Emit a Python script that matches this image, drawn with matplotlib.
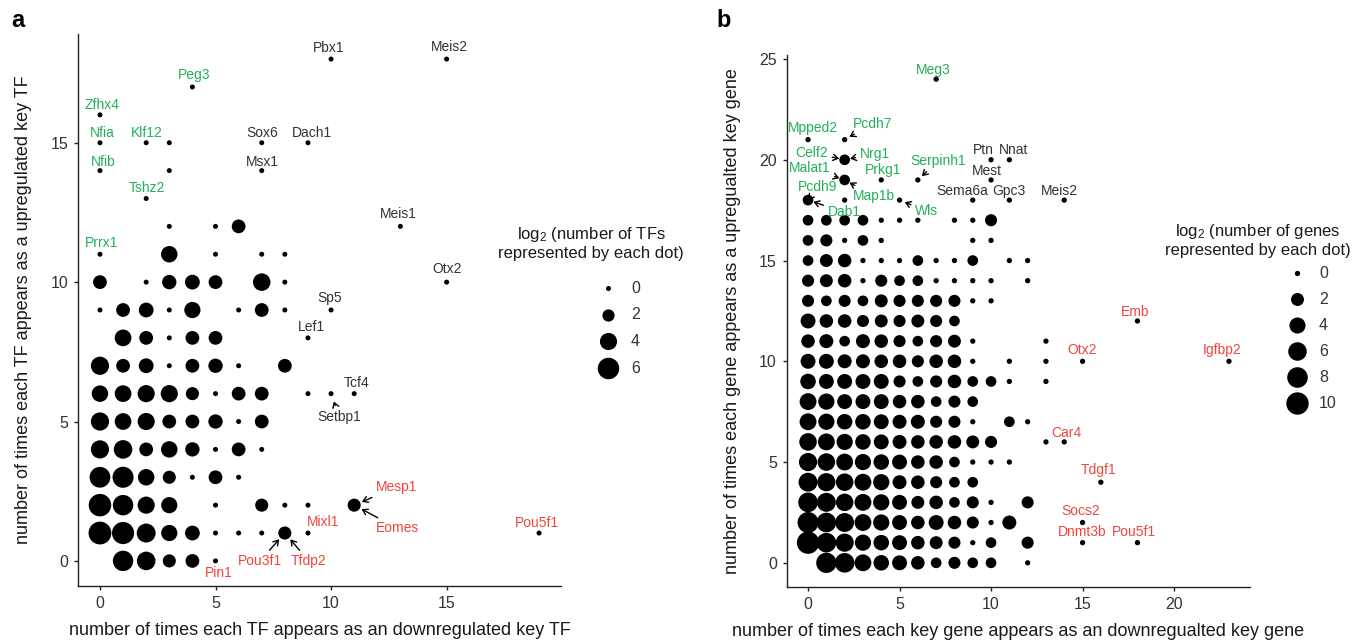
import numpy as np
import matplotlib
matplotlib.use("Agg")
import matplotlib.pyplot as plt

W, H = 1368, 644

# ---- data -------------------------------------------------------------
# panel a: number of TFs per (down, up) cell; row index = times upregulated,
# column index = times downregulated, 0 = no dot
a_grid = [
    [0, 45, 25, 5, 6, 1, 0, 0, 0, 0, 0, 0],
    [100, 80, 28, 12, 8, 1, 1, 1, 5, 1, 0, 0],
    [90, 45, 16, 12, 0, 1, 0, 5, 1, 1, 0, 5],
    [50, 55, 13, 5, 1, 6, 1, 0, 0, 0, 0, 0],
    [22, 25, 6, 13, 7, 1, 6, 1, 0, 0, 0, 0],
    [22, 14, 16, 6, 6, 7, 1, 6, 0, 0, 0, 0],
    [13, 14, 16, 16, 5, 1, 6, 6, 0, 1, 1, 1],
    [22, 6, 8, 1, 6, 7, 1, 0, 6, 0, 0, 0],
    [0, 14, 6, 1, 6, 6, 0, 0, 0, 1, 0, 0],
    [1, 6, 8, 1, 12, 0, 1, 6, 1, 0, 1, 0],
    [6, 0, 1, 7, 8, 6, 0, 18, 1, 0, 0, 0],
    [1, 0, 0, 13, 0, 1, 0, 1, 1, 0, 0, 0],
    [0, 0, 0, 1, 0, 1, 6, 0, 0, 0, 0, 0],
]
a_extra_x = [2, 0, 3, 7, 0, 2, 3, 7, 9, 0, 4, 10, 15, 13, 15, 19]
a_extra_y = [13, 14, 14, 14, 15, 15, 15, 15, 15, 16, 17, 18, 18, 12, 10, 1]
a_extra_n = [1] * 16

# panel b: number of genes per (down, up) cell
b_grid = [
    [0, 207, 128, 24, 12, 9, 5, 2, 3, 2, 2, 0, 1, 0, 0],
    [1000, 128, 53, 17, 12, 9, 5, 4, 3, 1, 2, 0, 3, 0, 0],
    [340, 128, 82, 24, 17, 9, 5, 9, 5, 3, 1, 6, 0, 0, 0],
    [128, 82, 35, 24, 17, 9, 4, 5, 2, 3, 1, 0, 3, 0, 0],
    [82, 53, 35, 24, 17, 6, 5, 3, 2, 2, 0, 0, 0, 0, 0],
    [53, 35, 24, 17, 12, 9, 5, 5, 2, 1, 1, 1, 0, 0, 0],
    [35, 24, 17, 12, 9, 6, 5, 5, 5, 4, 3, 0, 0, 1, 1],
    [24, 17, 12, 12, 9, 6, 6, 3, 3, 1, 0, 2, 1, 0, 0],
    [24, 17, 9, 9, 9, 5, 5, 2, 3, 2, 0, 0, 0, 0, 0],
    [12, 9, 9, 9, 9, 3, 2, 3, 5, 2, 2, 1, 0, 1, 0],
    [9, 9, 6, 6, 5, 5, 3, 5, 5, 1, 0, 1, 0, 1, 0],
    [5, 6, 2, 6, 5, 3, 2, 3, 4, 1, 0, 0, 0, 1, 0],
    [9, 5, 5, 3, 4, 3, 4, 3, 2, 0, 0, 0, 0, 0, 0],
    [3, 2, 3, 2, 4, 3, 3, 3, 3, 1, 1, 0, 0, 0, 0],
    [3, 4, 5, 1, 3, 2, 2, 1, 1, 1, 1, 0, 1, 0, 0],
    [2, 4, 5, 1, 1, 1, 2, 1, 1, 2, 0, 1, 1, 0, 0],
    [2, 3, 1, 2, 1, 0, 0, 0, 0, 1, 1, 0, 0, 0, 0],
    [2, 2, 2, 2, 1, 1, 1, 0, 1, 1, 3, 0, 0, 0, 0],
    [2, 0, 1, 0, 0, 1, 0, 0, 0, 1, 0, 1, 0, 0, 1],
]
b_extra_x = [2, 4, 6, 10, 2, 10, 11, 0, 2, 7, 18, 15, 23, 16, 15, 15, 18]
b_extra_y = [19, 19, 19, 19, 20, 20, 20, 21, 21, 24, 12, 10, 10, 4, 2, 1, 1]
b_extra_n = [2, 1, 1, 1, 2, 1, 1, 1, 1, 1, 1, 1, 1, 1, 1, 1, 1]

# labelled genes: name, x, y, group
a_labels = [
    ("Zfhx4", 0, 16, "up"), ("Nfia", 0, 15, "up"), ("Klf12", 2, 15, "up"),
    ("Nfib", 0, 14, "up"), ("Peg3", 4, 17, "up"), ("Tshz2", 2, 13, "up"),
    ("Prrx1", 0, 11, "up"),
    ("Pbx1", 10, 18, "both"), ("Meis2", 15, 18, "both"), ("Sox6", 7, 15, "both"),
    ("Dach1", 9, 15, "both"), ("Msx1", 7, 14, "both"), ("Meis1", 13, 12, "both"),
    ("Otx2", 15, 10, "both"), ("Sp5", 10, 9, "both"), ("Lef1", 9, 8, "both"),
    ("Tcf4", 11, 6, "both"), ("Setbp1", 10, 6, "both"),
    ("Mesp1", 11, 2, "down"), ("Eomes", 11, 2, "down"), ("Pou5f1", 19, 1, "down"),
    ("Mixl1", 9, 1, "down"), ("Pou3f1", 8, 1, "down"), ("Tfdp2", 8, 1, "down"),
    ("Pin1", 5, 0, "down"),
]
b_labels = [
    ("Meg3", 7, 24, "up"), ("Mpped2", 0, 21, "up"), ("Pcdh7", 2, 21, "up"),
    ("Celf2", 2, 20, "up"), ("Nrg1", 2, 20, "up"), ("Malat1", 2, 19, "up"),
    ("Map1b", 2, 19, "up"), ("Prkg1", 4, 19, "up"), ("Serpinh1", 6, 19, "up"),
    ("Pcdh9", 0, 18, "up"), ("Dab1", 0, 18, "up"), ("Wls", 5, 18, "up"),
    ("Ptn", 10, 20, "both"), ("Nnat", 11, 20, "both"), ("Mest", 10, 19, "both"),
    ("Sema6a", 9, 18, "both"), ("Gpc3", 11, 18, "both"), ("Meis2", 14, 18, "both"),
    ("Emb", 18, 12, "down"), ("Otx2", 15, 10, "down"), ("Igfbp2", 23, 10, "down"),
    ("Car4", 14, 6, "down"), ("Tdgf1", 16, 4, "down"), ("Socs2", 15, 2, "down"),
    ("Dnmt3b", 15, 1, "down"), ("Pou5f1", 18, 1, "down"),
]

a_legend = [0, 2, 4, 6]
b_legend = [0, 2, 4, 6, 8, 10]

# ---- layout (label offsets in pixels, True = arrow) --------------------
a_offsets = {
    "Zfhx4": (2, 10, False), "Nfia": (2, 10, False), "Klf12": (1, 10, False),
    "Nfib": (3, 9, False), "Peg3": (2, 12, False), "Tshz2": (1, 10, False),
    "Prrx1": (2, 11, False), "Pbx1": (-2, 11, False), "Meis2": (3, 12, False),
    "Sox6": (0, 10, False), "Dach1": (4, 10, False), "Msx1": (1, 9, False),
    "Meis1": (-2, 12, False), "Otx2": (1, 13, False), "Sp5": (-1, 12, False),
    "Lef1": (3, 11, False), "Tcf4": (2, 11, False), "Setbp1": (8, -23, True),
    "Mesp1": (42, 18, True), "Eomes": (43, -23, True), "Pou5f1": (-2, 10, False),
    "Mixl1": (15, 11, False), "Pou3f1": (-25, -28, True), "Tfdp2": (24, -28, True),
    "Pin1": (3, -12, False),
}
b_offsets = {
    "Meg3": (-3, 9, False), "Mpped2": (5, 12, False), "Pcdh7": (28, 16, True),
    "Celf2": (-33, 7, True), "Nrg1": (30, 6, True), "Malat1": (-35, 12, True),
    "Map1b": (29, -16, True), "Prkg1": (2, 10, False), "Serpinh1": (20, 19, True),
    "Pcdh9": (10, 13, True), "Dab1": (36, -12, True), "Wls": (27, -11, True),
    "Ptn": (-8, 10, False), "Nnat": (4, 10, False), "Mest": (-4, 9, False),
    "Sema6a": (-10, 9, False), "Gpc3": (0, 9, False), "Meis2": (-5, 9, False),
    "Emb": (-2, 9, False), "Otx2": (0, 11, False), "Igfbp2": (-7, 11, False),
    "Car4": (2, 9, False), "Tdgf1": (-2, 12, False), "Socs2": (-2, 12, False),
    "Dnmt3b": (0, 11, False), "Pou5f1": (-4, 11, False),
}

GROUP_COLORS = {"up": "#22B05A", "down": "#F0463C", "both": "#333333"}
TEXT = "#1A1A1A"
TICK = "#333333"

plt.rcParams.update({
    "font.family": ["Liberation Sans", "DejaVu Sans"],
    "mathtext.fontset": "custom",
    "mathtext.rm": "Liberation Sans",
    "mathtext.it": "Liberation Sans:italic",
    "mathtext.bf": "Liberation Sans:bold",
})


def dot_px(v, d0, k, p):
    return d0 + k * np.power(v, p)


def dot_area(v, style):
    return (dot_px(v, *style) * 72 / 100) ** 2


A_SIZE = (5.0, 4.3, 0.75)
B_SIZE = (5.3, 5.4, 0.5)


def grid_points(grid, ex, ey, en):
    xs, ys, ns = [], [], []
    for y, row in enumerate(grid):
        for x, n in enumerate(row):
            if n:
                xs.append(x)
                ys.append(y)
                ns.append(n)
    xs += ex
    ys += ey
    ns += en
    return np.array(xs), np.array(ys), np.log2(np.array(ns, dtype=float))


def px_box(left, top, right, bottom):
    return [left / W, 1 - bottom / H, (right - left) / W, (bottom - top) / H]


def expand(vals, frac=0.05):
    lo, hi = min(vals), max(vals)
    pad = (hi - lo) * frac
    return lo - pad, hi + pad


def draw_panel(ax, xs, ys, vs, size, labels, offsets, shrink, xlabel, ylabel, xticks, yticks):
    ax.scatter(xs, ys, s=dot_area(vs, size), color="black", linewidths=0, zorder=2, clip_on=False)
    ax.set_xlim(*expand(xs))
    ax.set_ylim(*expand(ys))
    ax.set_xticks(xticks)
    ax.set_yticks(yticks)
    for side in ("top", "right"):
        ax.spines[side].set_visible(False)
    for side in ("left", "bottom"):
        ax.spines[side].set_linewidth(1.0)
        ax.spines[side].set_color("#222222")
    ax.tick_params(direction="out", length=3.2, width=1.0, color="#222222",
                   labelsize=11.5, labelcolor=TICK, pad=4)
    ax.set_xlabel(xlabel, fontsize=13, color=TEXT, labelpad=8)
    ax.set_ylabel(ylabel, fontsize=13, color=TEXT, labelpad=13)
    ax.patch.set_alpha(0)
    for name, x, y, group in labels:
        dx, dy, arrow = offsets[name]
        props = None
        if arrow:
            props = dict(arrowstyle="->,head_length=0.35,head_width=0.22", color="black",
                         lw=1.0, shrinkA=1, shrinkB=shrink)
        ax.annotate(name, (x, y), xytext=(dx, dy), textcoords="offset pixels",
                    ha="center", va="center", fontsize=10,
                    color=GROUP_COLORS[group], arrowprops=props, zorder=3,
                    annotation_clip=False)


fig = plt.figure(figsize=(W / 100, H / 100), dpi=100)

ax_a = fig.add_axes(px_box(78, 34, 561, 586))
xa, ya, va = grid_points(a_grid, a_extra_x, a_extra_y, a_extra_n)
draw_panel(ax_a, xa, ya, va, A_SIZE, a_labels, a_offsets, 6,
           "number of times each TF appears as an downregulated key TF",
           "number of times each TF appears as a upregulated key TF",
           [0, 5, 10, 15], [0, 5, 10, 15])

ax_b = fig.add_axes(px_box(787, 55, 1250, 587))
xb, yb, vb = grid_points(b_grid, b_extra_x, b_extra_y, b_extra_n)
draw_panel(ax_b, xb, yb, vb, B_SIZE, b_labels, b_offsets, 4,
           "number of times each key gene appears as an downregualted key gene",
           "number of times each gene appears as a upregualted key gene",
           [0, 5, 10, 15, 20], [0, 5, 10, 15, 20, 25])

# overlay in pixel coordinates for legends and panel letters
ov = fig.add_axes([0, 0, 1, 1], zorder=5)
ov.set_xlim(0, W)
ov.set_ylim(H, 0)
ov.axis("off")
ov.patch.set_alpha(0)

ov.text(18, 20, "a", fontsize=17, fontweight="bold", ha="center", va="center", color="black")
ov.text(724, 20, "b", fontsize=17, fontweight="bold", ha="center", va="center", color="black")


def draw_legend(title, values, size, title_xy, dot_x, label_x, y0, step):
    ov.text(title_xy[0], title_xy[1], title, ha="center", va="center",
            fontsize=12, color=TEXT, linespacing=1.15, multialignment="center")
    for i, v in enumerate(values):
        y = y0 + i * step
        ov.scatter([dot_x], [y], s=dot_area(v, size), color="black", linewidths=0)
        ov.text(label_x, y, str(v), ha="left", va="center", fontsize=11.5, color=TICK)


draw_legend("log$_2$ (number of TFs\nrepresented by each dot)", a_legend, A_SIZE,
            (591, 243), 608, 631, 288, 26.7)
draw_legend("log$_2$ (number of genes\nrepresented by each dot)", b_legend, B_SIZE,
            (1258, 240), 1297, 1319, 273, 26)

fig.savefig("out.png", dpi=100)
